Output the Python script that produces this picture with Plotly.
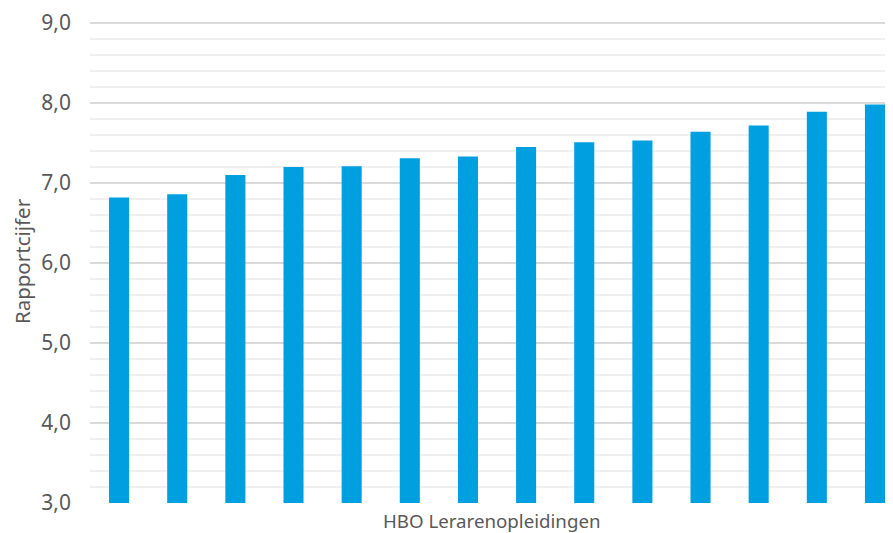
import plotly.graph_objects as go

categories = [f"Opleiding {i}" for i in range(1, 15)]
values = [6.82, 6.86, 7.10, 7.20, 7.21, 7.31, 7.33, 7.45, 7.51, 7.53, 7.64, 7.72, 7.89, 7.98]

x_title = "HBO Lerarenopleidingen"
y_title = "Rapportcijfer"
y_ticks = [3, 4, 5, 6, 7, 8, 9]

fig = go.Figure(go.Bar(
    x=list(range(len(categories))),
    y=values,
    marker=dict(color="#009FE0", line=dict(width=0)),
    hovertext=categories,
))

# page has an 8px body margin; compensate so the plot lands where the reference has it
fig.update_layout(
    width=885, height=525,
    margin=dict(l=82, r=0, t=9, b=30),
    paper_bgcolor="white", plot_bgcolor="white",
    separators=",.",
    bargap=0.655,
    showlegend=False,
    font=dict(family="Noto Sans", color="#595959"),
    xaxis=dict(
        range=[-0.5, 13.31],
        showticklabels=False, showgrid=False, zeroline=False,
        ticks="",
    ),
    yaxis=dict(
        range=[3, 9.0373], tickmode="array", tickvals=y_ticks,
        ticktext=[f"{v},0" for v in y_ticks],
        showgrid=True, gridcolor="#D9D9D9", gridwidth=1.5,
        zeroline=False, showline=False,
        tickfont=dict(size=21, color="#595959"),
        ticks="", ticklabelstandoff=18, ticklabeloverflow="allow",
        minor=dict(dtick=0.2, showgrid=True, gridcolor="#F0F0F0", gridwidth=1.5),
        title=dict(text=y_title, font=dict(size=20.5, color="#595959"), standoff=8),
    ),
    annotations=[dict(
        text=x_title, xref="paper", yref="paper", x=0.5, y=0,
        yshift=-3, xanchor="center", yanchor="top", showarrow=False,
        font=dict(size=18.7, color="#595959"),
    )],
)

fig.write_html("out.html")
